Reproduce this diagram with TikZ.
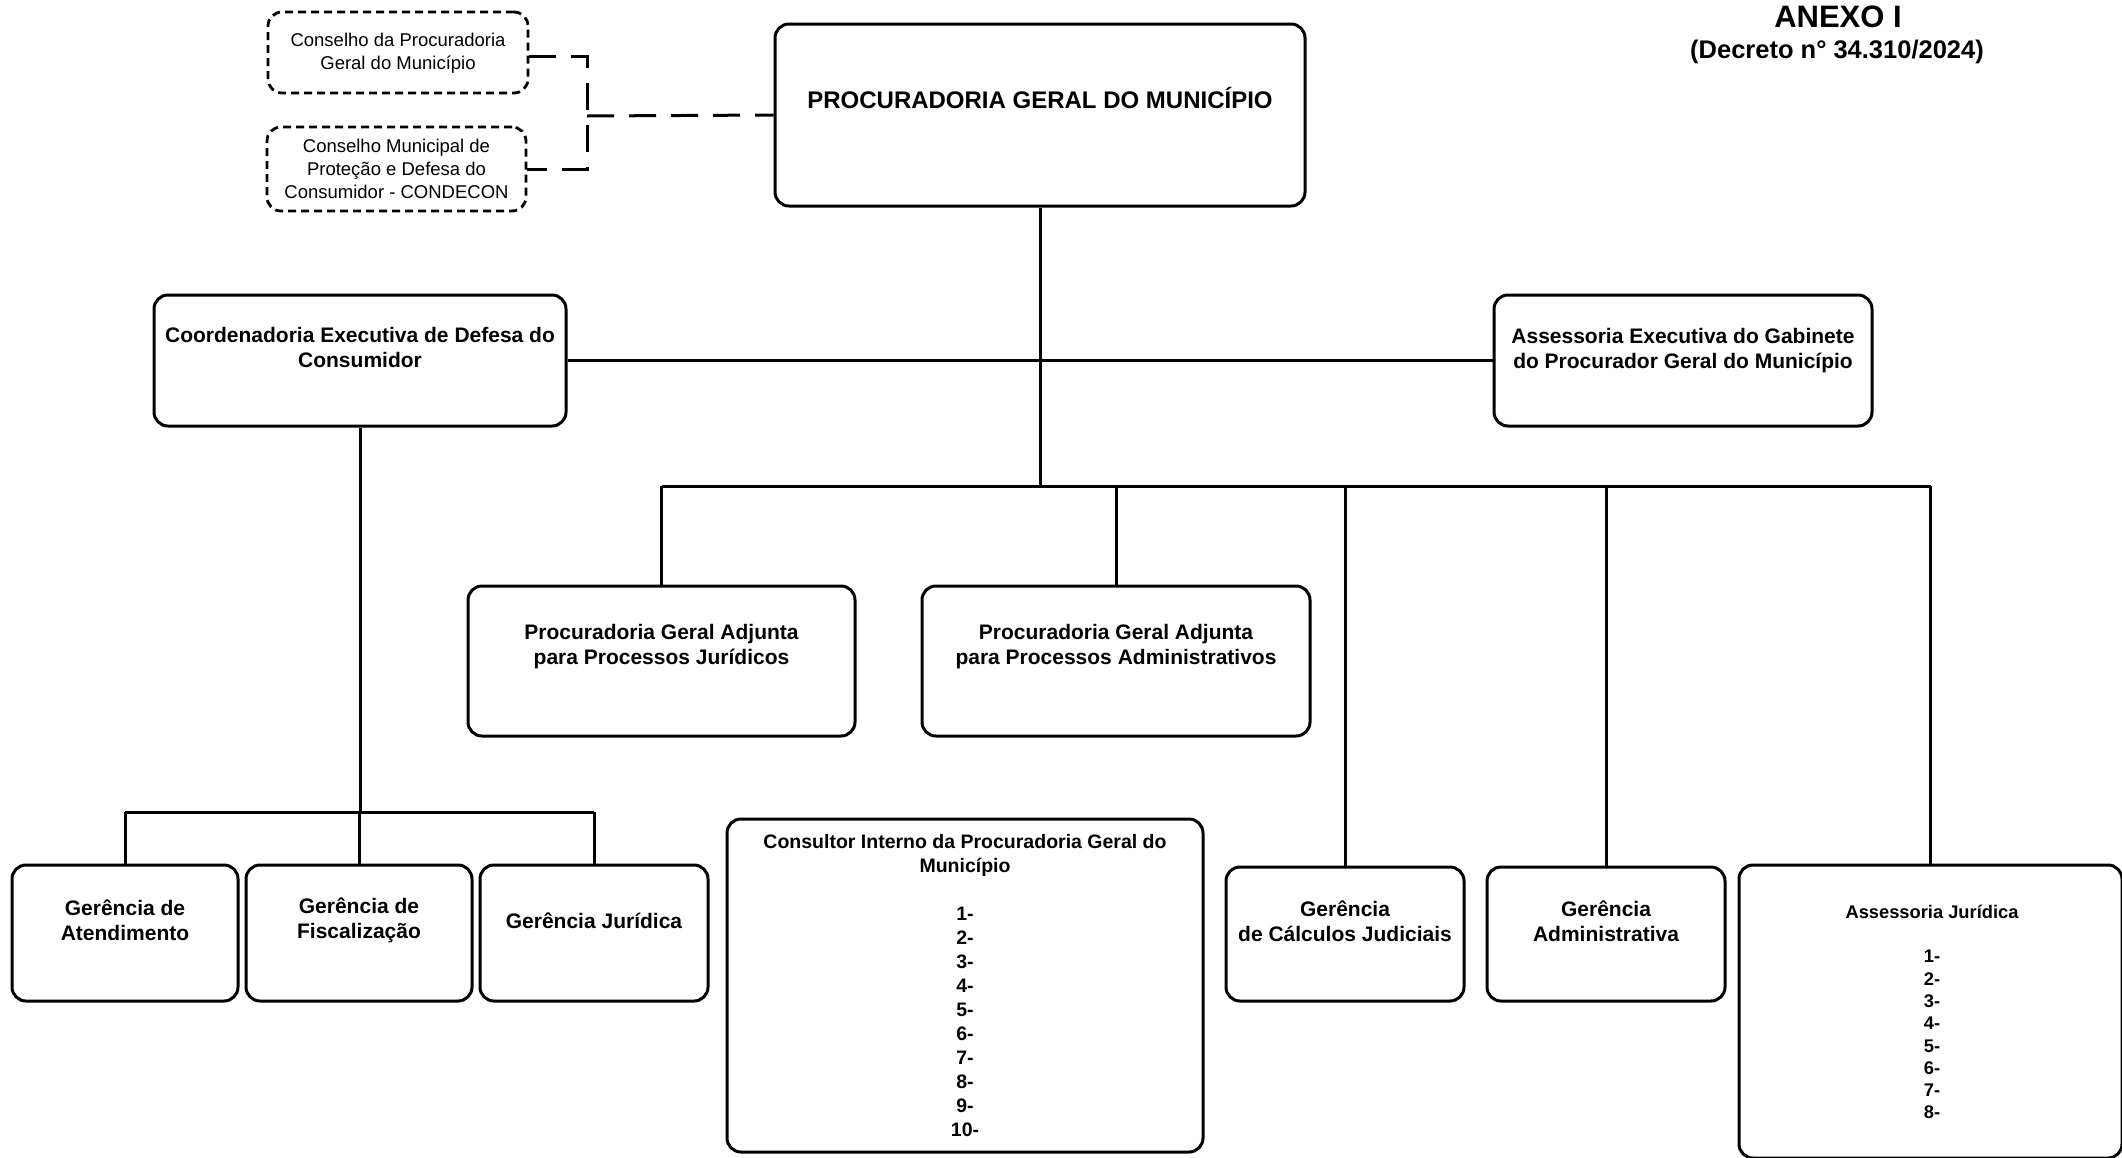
\documentclass[tikz,border=0pt]{standalone}
\usepackage{fontspec}
\setmainfont{Liberation Sans}
\begin{document}
\begin{tikzpicture}[x=1pt,y=-1pt,
  box/.style={draw, line width=3pt, rounded corners=14pt, inner sep=0pt},
  dbox/.style={draw, line width=2.8pt, rounded corners=14pt, dash pattern=on 8pt off 5pt, inner sep=0pt},
  conn/.style={line width=3pt},
  dconn/.style={line width=3pt, dash pattern=on 27pt off 15pt},
  lbl/.style={align=center, inner sep=0pt, font=\bfseries\fontsize{21}{25}\selectfont},
  slbl/.style={align=center, inner sep=0pt, font=\fontsize{18.5}{23}\selectfont}]
\useasboundingbox (0,0) rectangle (2122,1157);
\fill[white] (0,0) rectangle (2122,1157);
\clip (0,0) rectangle (2122,1157);

% boxes
\node[dbox, minimum width=260pt, minimum height=81pt] (c1) at (398,52.5) {};
\node[dbox, minimum width=259pt, minimum height=84pt] (c2) at (396.5,169) {};
\node[box, minimum width=530pt, minimum height=182pt] (pgm) at (1040,115) {};
\node[box, minimum width=412pt, minimum height=131pt] (coord) at (360,360.5) {};
\node[box, minimum width=378pt, minimum height=131pt] (aeg) at (1683,360.5) {};
\node[box, minimum width=387pt, minimum height=150pt] (pga1) at (661.5,661) {};
\node[box, minimum width=388pt, minimum height=150pt] (pga2) at (1116,661) {};
\node[box, minimum width=226pt, minimum height=136pt] (ga) at (125,933) {};
\node[box, minimum width=226pt, minimum height=136pt] (gf) at (359,933) {};
\node[box, minimum width=228pt, minimum height=136pt] (gj) at (594,933) {};
\node[box, minimum width=476pt, minimum height=333pt] (cons) at (965,985.5) {};
\node[box, minimum width=238pt, minimum height=134pt] (gc) at (1345,934) {};
\node[box, minimum width=238pt, minimum height=134pt] (gadm) at (1606,934) {};
\node[box, minimum width=383pt, minimum height=293pt] (aj) at (1930.5,1011.5) {};

% labels
\node[lbl] (anexo) at (1838,17) {\fontsize{31}{37}\selectfont ANEXO I};
\node[lbl] (decreto) at (1837,52) {\fontsize{25.5}{30}\selectfont (Decreto n° 34.310/2024)};
\node[slbl] (tc1) at (398,53) {Conselho da Procuradoria\\Geral do Município};
\node[slbl] (tc2) at (396.5,168.5) {Conselho Municipal de\\Proteção e Defesa do\\Consumidor - CONDECON};
\node[lbl] (tpgm) at (1040,98) {\fontsize{24}{29}\selectfont PROCURADORIA GERAL DO MUNICÍPIO};
\node[lbl] (tcoord) at (360,347.5) {Coordenadoria Executiva de Defesa do\\Consumidor};
\node[lbl] (taeg) at (1683,350.5) {Assessoria Executiva do Gabinete\\do Procurador Geral do Município};
\node[lbl] (tpga1) at (661.5,647) {Procuradoria Geral Adjunta\\para Processos Jurídicos};
\node[lbl] (tpga2) at (1116,647) {Procuradoria Geral Adjunta\\para Processos Administrativos};
\node[lbl] (tga) at (125,920.5) {Gerência de\\Atendimento};
\node[lbl] (tgf) at (359,920.5) {Gerência de\\Fiscalização};
\node[lbl] (tgj) at (594,921) {Gerência Jurídica};
\node[lbl] (tgc) at (1345,921.5) {Gerência\\de Cálculos Judiciais};
\node[lbl] (tgadm) at (1606,921.5) {Gerência\\Administrativa};
\node[lbl, font=\bfseries\fontsize{19.5}{24}\selectfont] (tcons) at (965,985.5)
  {Consultor Interno da Procuradoria Geral do\\Município\\[24pt]1-\\2-\\3-\\4-\\5-\\6-\\7-\\8-\\9-\\10-};
\node[lbl, font=\bfseries\fontsize{18.3}{22.3}\selectfont] (taj) at (1932,1012)
  {Assessoria Jurídica\\[22.3pt]1-\\2-\\3-\\4-\\5-\\6-\\7-\\8-};

% connectors
\coordinate (bus) at (1040,486);
\coordinate (brk) at (587,116);
\coordinate (sub) at (360,812);
\draw[conn] (pgm.south) -- (bus);
\draw[conn] (coord.east) -- (aeg.west);
\draw[conn] (pga1.north |- bus) -- (aj.north |- bus);
\foreach \n in {pga1,pga2,gc,gadm,aj} \draw[conn] (\n.north |- bus) -- (\n.north);
\draw[conn] (coord.south) -- (sub);
\draw[conn] (ga.north |- sub) -- (gj.north |- sub);
\foreach \n in {ga,gf,gj} \draw[conn] (\n.north |- sub) -- (\n.north);
\draw[dconn] ([yshift=-4pt]c1.east) -- ([yshift=-4pt]c1.east -| brk) -- (c2.east -| brk) -- (c2.east);
\draw[dconn] (brk) -- (pgm.west);
\end{tikzpicture}
\end{document}
